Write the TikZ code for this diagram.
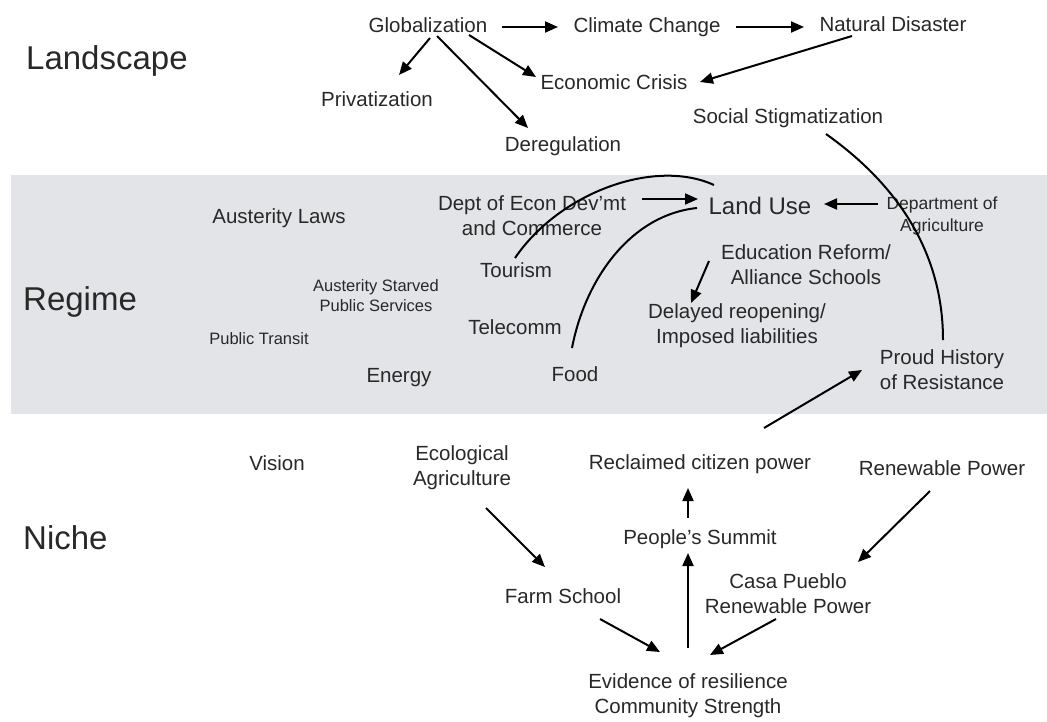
\documentclass[tikz,border=0pt]{standalone}
\usepackage{fontspec}
\setmainfont{Liberation Sans}
\usetikzlibrary{arrows.meta,calc}
\definecolor{band}{RGB}{227,228,232}
\definecolor{txt}{RGB}{40,40,40}
\begin{document}
\begin{tikzpicture}[x=1pt,y=-1pt,
  ml/.style={text=txt,font=\fontsize{20.5}{25}\selectfont,align=center,inner sep=0},
  lbl/.style={text=txt,font=\fontsize{20.5}{25}\selectfont,inner sep=0,text height=19pt,text depth=4pt},
  big/.style={text=txt,font=\fontsize{24}{28}\selectfont,inner sep=0,text height=22pt,text depth=5pt},
  sml/.style={text=txt,font=\fontsize{16.5}{20}\selectfont,align=center,inner sep=0},
  smlone/.style={text=txt,font=\fontsize{16.5}{20}\selectfont,inner sep=0,text height=15pt,text depth=3pt},
  mid/.style={text=txt,font=\fontsize{17.5}{22}\selectfont,align=center,inner sep=0},
  hdr/.style={text=txt,font=\fontsize{33}{40}\selectfont,anchor=west,inner sep=0,text height=30pt,text depth=6pt},
  arr/.style={-{Triangle[length=13pt,width=11pt]},line width=2pt,black},
  crv/.style={line width=2pt,black}]
\useasboundingbox (0,0) rectangle (1047,721);
\fill[band] (11,175) rectangle (1047,414);

% headers
\node[hdr] (landscape) at (26,57) {Landscape};
\node[hdr] (regime) at (23,298) {Regime};
\node[hdr] (niche) at (23,537) {Niche};

% landscape
\node[lbl] (glob) at (428,25) {Globalization};
\node[lbl] (clim) at (647,25) {Climate Change};
\node[lbl] (nat) at (893,24) {Natural Disaster};
\node[lbl] (priv) at (377,99) {Privatization};
\node[lbl] (econ) at (614,82) {Economic Crisis};
\node[lbl] (dereg) at (563,144) {Deregulation};
\node[lbl] (soc) at (788,116) {Social Stigmatization};

% regime
\node[lbl] (aust) at (279,216) {Austerity Laws};
\node[ml] (dept) at (532,216) {Dept of Econ Dev’mt\\and Commerce};
\node[big] (land) at (760,206) {Land Use};
\node[mid] (agri) at (942,216) {Department of\\Agriculture};
\node[ml] (edu) at (806,265) {Education Reform/\\Alliance Schools};
\node[ml] (delay) at (737,326) {Delayed reopening/\\Imposed liabilities};
\node[ml] (proud) at (942,370) {Proud History\\of Resistance};
\node[lbl] (tour) at (516,270) {Tourism};
\node[sml] (starved) at (376,296) {Austerity Starved\\Public Services};
\node[lbl] (tele) at (515,327) {Telecomm};
\node[smlone] (transit) at (259,338) {Public Transit};
\node[lbl] (energy) at (399,375) {Energy};
\node[lbl] (food) at (575,374) {Food};

% niche
\node[lbl] (vision) at (277,463) {Vision};
\node[ml] (eco) at (462,468) {Ecological\\Agriculture};
\node[lbl] (recl) at (700,462) {Reclaimed citizen power};
\node[lbl] (renew) at (942,468) {Renewable Power};
\node[lbl] (summit) at (700,537) {People’s Summit};
\node[lbl] (farm) at (563,596) {Farm School};
\node[ml] (casa) at (788,594) {Casa Pueblo\\Renewable Power};
\node[ml] (evid) at (688,696) {Evidence of resilience\\Community Strength};

% landscape arrows
\draw[arr] ($(glob)+(74,2)$) -- ($(clim)+(-89,2)$);
\draw[arr] ($(clim)+(89,2)$) -- ($(nat)+(-89,3)$);
\draw[arr] ($(glob)+(2,13)$) -- ($(priv)+(22,-24)$);
\draw[arr] ($(glob)+(9,11)$) -- ($(dereg)+(-35,-16)$);
\draw[arr] ($(glob)+(41,10)$) -- ($(econ)+(-78,-5)$);
\draw[arr] ($(nat)+(-41,12)$) -- ($(econ)+(86,0)$);
\draw[crv] ($(soc)+(38,18)$) .. controls (895,183) and (943,250) .. ($(proud)+(1,-30)$);

% regime arrows
\draw[arr] ($(dept)+(110,-17)$) -- ($(land)+(-62,-7)$);
\draw[arr] ($(agri)+(-64,-12)$) -- ($(land)+(64,-2)$);
\draw[arr] ($(edu)+(-97,-4)$) -- ($(delay)+(-46,-23)$);
\draw[crv] ($(tour)+(-1,-12)$) .. controls (560,192) and (655,158) .. ($(land)+(-46,-21)$);
\draw[crv] ($(food)+(-3,-26)$) .. controls (585,280) and (630,215) .. ($(land)+(-63,2)$);

% niche arrows
\draw[arr] ($(recl)+(64,-34)$) -- ($(proud)+(-80,0)$);
\draw[arr] ($(eco)+(24,40)$) -- ($(farm)+(-18,-29)$);
\draw[arr] ($(farm)+(37,23)$) -- ($(evid)+(-28,-44)$);
\draw[arr] ($(evid)+(0,-48)$) -- ($(summit)+(-12,16)$);
\draw[arr] ($(summit)+(-12,-19)$) -- ($(recl)+(-12,26)$);
\draw[arr] ($(casa)+(-12,25)$) -- ($(evid)+(22,-41)$);
\draw[arr] ($(renew)+(-12,23)$) -- ($(casa)+(70,-32)$);
\end{tikzpicture}
\end{document}
